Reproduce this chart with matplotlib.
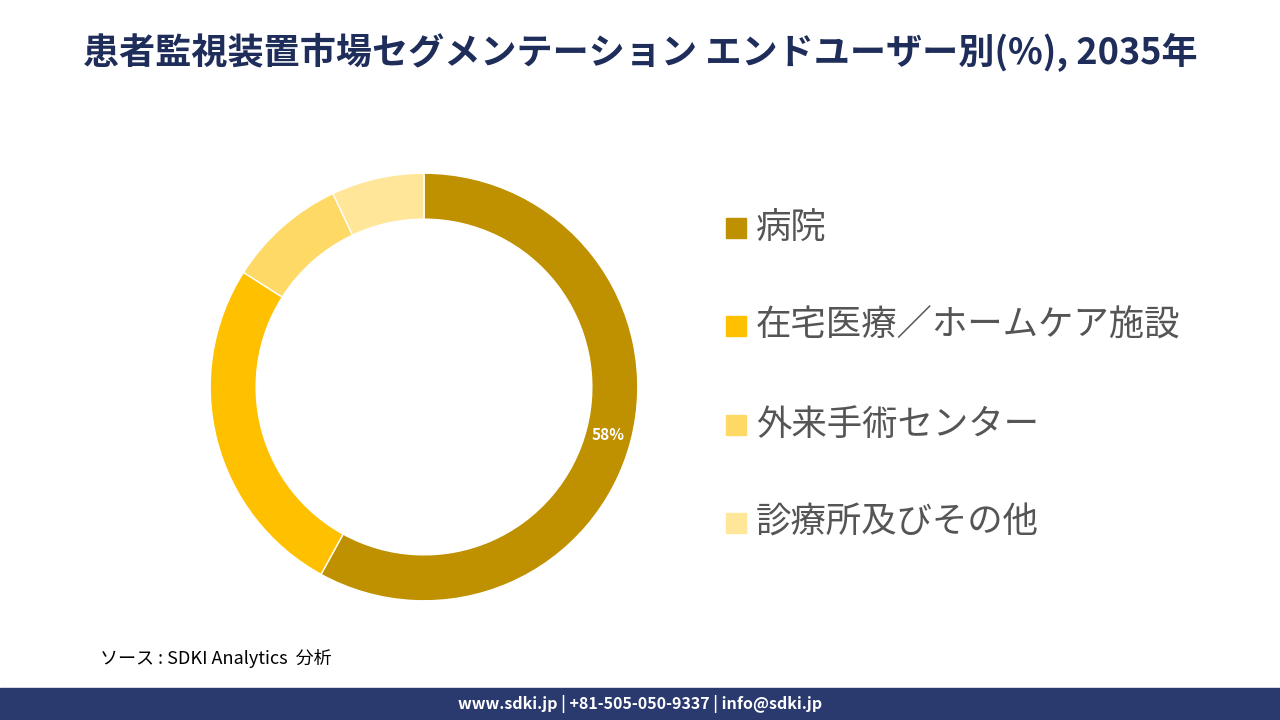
import matplotlib
matplotlib.use("Agg")
import matplotlib.pyplot as plt
from matplotlib.patches import Rectangle

plt.rcParams["font.family"] = ["Noto Sans CJK JP", "DejaVu Sans"]

labels = ["病院", "在宅医療／ホームケア施設", "外来手術センター", "診療所及びその他"]
values = [58, 26, 9, 7]
colors = ["#BF9000", "#FFC000", "#FFD966", "#FFE699"]

fig = plt.figure(figsize=(12.8, 7.2), dpi=100)
fig.patch.set_facecolor("white")

fig.text(0.5, 1 - 52/720, "患者監視装置市場セグメンテーション エンドユーザー別(%), 2035年",
         ha="center", va="center", fontsize=26, color="#1F2D5A", fontweight="bold")

# donut: center (424, 387) px, outer radius ~214 px
size = 449
ax = fig.add_axes([(424 - size/2)/1280, 1 - (387 + size/2)/720, size/1280, size/720])
ax.pie(values, colors=colors, startangle=90, counterclock=False,
       radius=1.0, wedgeprops=dict(width=0.215, edgecolor="white", linewidth=1))
ax.set_aspect("equal")
ax.set_xlim(-1.05, 1.05)
ax.set_ylim(-1.05, 1.05)
ax.text(0.86, -0.225, f"{values[0]}%", ha="center", va="center",
        fontsize=11, color="white", fontweight="bold")

ys = [228, 326, 425, 523]
for lab, col, y in zip(labels, colors, ys):
    fig.patches.append(Rectangle((726/1280, 1 - (y + 10)/720), 20/1280, 20/720,
                                 transform=fig.transFigure, color=col))
    fig.text(756/1280, 1 - y/720, lab, ha="left", va="center", fontsize=25.5, color="#555555")

fig.text(100/1280, 1 - 658/720, "ソース : SDKI Analytics  分析", ha="left", va="center",
         fontsize=13, style="italic", color="black")

fig.patches.append(Rectangle((0, 0), 1, 32/720, transform=fig.transFigure, color="#2B3A6E"))
fig.text(0.5, 16/720, "www.sdki.jp | +81-505-050-9337 | info@sdki.jp", ha="center",
         va="center", fontsize=11.5, color="white", fontweight="bold")

fig.savefig("out.png", dpi=100)
